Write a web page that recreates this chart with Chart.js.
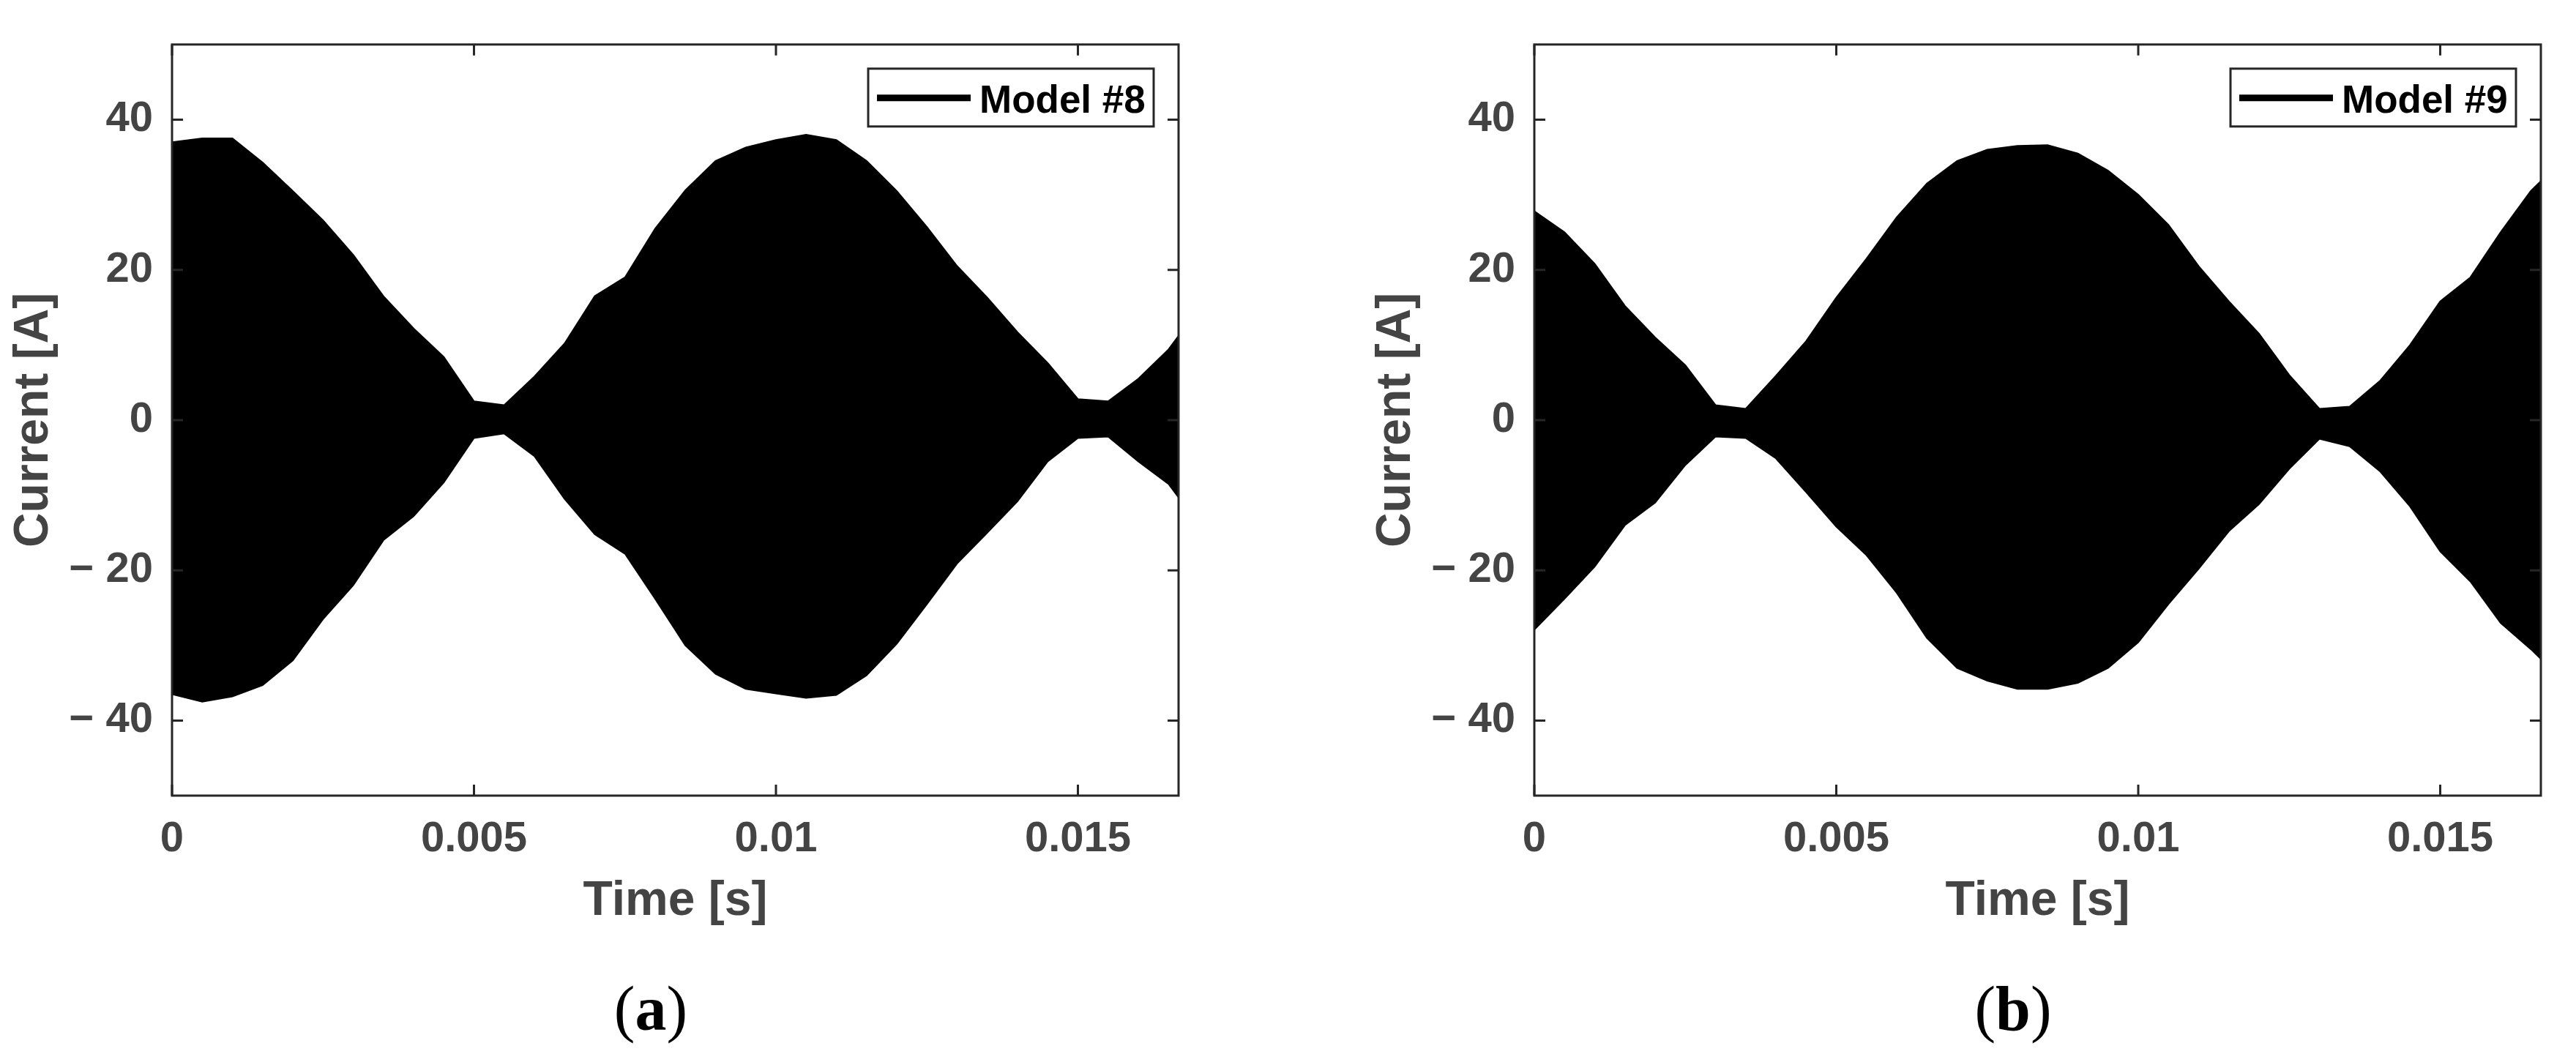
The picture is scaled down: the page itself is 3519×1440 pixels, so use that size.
<!DOCTYPE html>
<html>
<head>
<meta charset="utf-8">
<script src="https://cdn.jsdelivr.net/npm/chart.js@4.4.0/dist/chart.umd.min.js"></script>
<style>
  body { margin: 0; background: #fff; width: 3519px; height: 1440px; position: relative; overflow: hidden; }
  .panel { position: absolute; top: 0; width: 1658px; height: 1440px; }
  canvas { display: block; }
  .cap { position: absolute; font-family: "Liberation Serif", "Times New Roman", serif; font-size: 86px; line-height: 1; transform: translateX(-50%); color: #000; }
</style>
</head>
<body>
<div class="panel" style="left:0"><canvas id="chartA" width="1658" height="1440"></canvas></div>
<div class="panel" style="left:1861px"><canvas id="chartB" width="1658" height="1440"></canvas></div>
<div class="cap" style="left:889px;top:1335px">(<b>a</b>)</div>
<div class="cap" style="left:2750px;top:1335px">(<b>b</b>)</div>
<script>
const timeS = [0, 0.0005, 0.001, 0.0015, 0.002, 0.0025, 0.003, 0.0035, 0.004, 0.0045,
  0.005, 0.0055, 0.006, 0.0065, 0.007, 0.0075, 0.008, 0.0085, 0.009, 0.0095,
  0.01, 0.0105, 0.011, 0.0115, 0.012, 0.0125, 0.013, 0.0135, 0.014, 0.0145,
  0.015, 0.0155, 0.016, 0.0165, 0.016667];

// Model #8 current envelope [A]
const upperA = [37, 37.5, 37.5, 34.3, 30.5, 26.6, 22, 16.5, 12.2, 8.4,
  2.5, 2, 5.8, 10.2, 16.5, 19, 25.5, 30.6, 34.5, 36.3,
  37.3, 38, 37.3, 34.5, 30.5, 25.7, 20.5, 16.3, 11.7, 7.6,
  2.8, 2.5, 5.5, 9.4, 11.2];
const lowerA = [-36.5, -37.5, -36.8, -35.3, -32, -26.5, -22, -16, -12.8, -8.3,
  -2.4, -1.8, -4.8, -10.5, -15.2, -17.8, -23.8, -30, -33.8, -35.8,
  -36.4, -37, -36.6, -34, -29.8, -24.5, -19.1, -15, -10.8, -5.5,
  -2.4, -2.2, -5.5, -8.5, -10.3];

// Model #9 current envelope [A]
const upperB = [27.8, 25, 20.8, 15.2, 11, 7.3, 2, 1.5, 5.9, 10.5,
  16.3, 21.5, 27, 31.5, 34.5, 36, 36.5, 36.6, 35.5, 33.2,
  30, 26, 20.5, 15.8, 11.5, 6, 1.5, 1.8, 5.2, 10,
  15.8, 19, 25, 30.5, 31.8];
const lowerB = [-27.9, -23.8, -19.5, -14, -11, -6, -2.2, -2.4, -5.1, -9.6,
  -14.2, -18, -23, -29, -33, -34.7, -35.8, -35.8, -35, -33,
  -29.6, -24.5, -19.8, -14.8, -11.2, -6.5, -2.5, -3.5, -6.8, -11.5,
  -17.5, -21.5, -27, -30.5, -31.8];

const xTicks = [0, 0.005, 0.01, 0.015];
const xTickLabels = ["0", "0.005", "0.01", "0.015"];
const yTicks = [-40, -20, 0, 20, 40];
const yTickLabels = ["\u2212 40", "\u2212 20", "0", "20", "40"];

const FONT = "'Liberation Sans', Arial, Helvetica, sans-serif";
const AXIS = "#262626";
const TEXT = "#444444";

// box, inward ticks and legend, drawn over the data
const framePlugin = {
  id: "frame",
  afterDatasetsDraw(chart) {
    const { ctx, chartArea: a, scales: { x, y } } = chart;
    const len = 15;
    ctx.save();
    ctx.strokeStyle = AXIS;
    ctx.lineWidth = 3;
    ctx.beginPath();
    x.ticks.forEach(t => {
      const px = x.getPixelForValue(t.value);
      ctx.moveTo(px, a.bottom); ctx.lineTo(px, a.bottom - len);
      ctx.moveTo(px, a.top); ctx.lineTo(px, a.top + len);
    });
    y.ticks.forEach(t => {
      const py = y.getPixelForValue(t.value);
      ctx.moveTo(a.left, py); ctx.lineTo(a.left + len, py);
      ctx.moveTo(a.right, py); ctx.lineTo(a.right - len, py);
    });
    ctx.stroke();
    ctx.strokeRect(a.left, a.top, a.right - a.left, a.bottom - a.top);

    // legend
    const w = 390, h = 79;
    const bx = a.right - 34 - w, by = a.top + 33;
    ctx.fillStyle = "#fff";
    ctx.fillRect(bx, by, w, h);
    ctx.strokeRect(bx, by, w, h);
    ctx.strokeStyle = "#000";
    ctx.lineWidth = 9;
    ctx.beginPath();
    ctx.moveTo(bx + 12, by + 40);
    ctx.lineTo(bx + 140, by + 40);
    ctx.stroke();
    ctx.fillStyle = "#000";
    ctx.font = "bold 53px " + FONT;
    ctx.textBaseline = "alphabetic";
    ctx.fillText(chart.data.datasets[0].label, bx + 152, by + 60);
    ctx.restore();
  }
};

function makeChart(id, upper, lower, label) {
  const tickFont = { family: FONT, size: 58, weight: "bold" };
  const titleFont = { family: FONT, size: 66, weight: "bold" };
  return new Chart(document.getElementById(id), {
    type: "line",
    data: {
      datasets: [
        {
          label: label,
          data: timeS.map((t, i) => ({ x: t, y: upper[i] })),
          borderColor: "#000",
          backgroundColor: "#000",
          borderWidth: 2,
          pointRadius: 0,
          tension: 0,
          fill: "+1"
        },
        {
          label: label + " (lower)",
          data: timeS.map((t, i) => ({ x: t, y: lower[i] })),
          borderColor: "#000",
          borderWidth: 2,
          pointRadius: 0,
          tension: 0,
          fill: false
        }
      ]
    },
    options: {
      responsive: false,
      animation: false,
      devicePixelRatio: 1,
      layout: { padding: { left: 0, top: 40, right: 48, bottom: 169 } },
      plugins: { legend: { display: false }, tooltip: { enabled: false } },
      scales: {
        x: {
          type: "linear",
          min: 0,
          max: 1 / 60,
          afterFit(s) { s.height = 184; },
          afterBuildTicks(s) { s.ticks = xTicks.map(v => ({ value: v })); },
          grid: { display: false, drawTicks: false },
          border: { display: false },
          ticks: {
            padding: 25, font: tickFont, color: TEXT, maxRotation: 0, autoSkip: false,
            callback: (v, i) => xTickLabels[i]
          },
          title: { display: true, text: "Time [s]", font: titleFont, color: TEXT, padding: { top: 0, bottom: 0 } }
        },
        y: {
          type: "linear",
          min: -50,
          max: 50,
          afterFit(s) { s.width = 235; },
          afterBuildTicks(s) { s.ticks = yTicks.map(v => ({ value: v })); },
          grid: { display: false, drawTicks: false },
          border: { display: false },
          ticks: {
            padding: 26, font: tickFont, color: TEXT, autoSkip: false,
            callback: (v, i) => yTickLabels[i]
          },
          title: { display: true, text: "Current [A]", font: titleFont, color: TEXT, padding: { top: 7, bottom: 0 } }
        }
      }
    },
    plugins: [framePlugin]
  });
}

makeChart("chartA", upperA, lowerA, "Model #8");
makeChart("chartB", upperB, lowerB, "Model #9");
</script>
</body>
</html>
